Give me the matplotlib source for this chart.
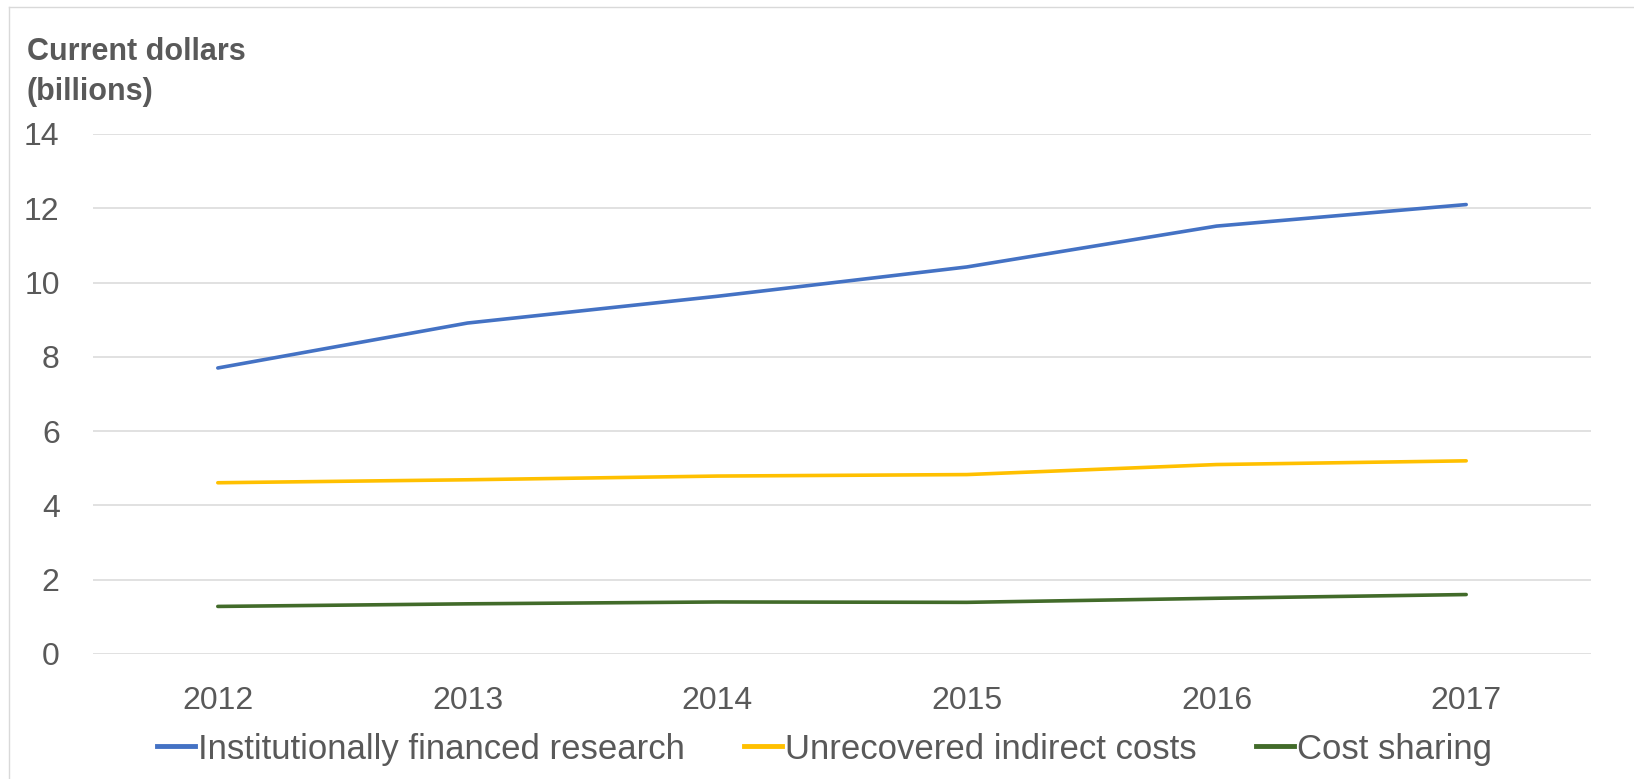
import matplotlib
matplotlib.use("Agg")
import matplotlib.pyplot as plt
from matplotlib.lines import Line2D

# data
years = ["2012", "2013", "2014", "2015", "2016", "2017"]
institutional = [7.70, 8.91, 9.63, 10.42, 11.52, 12.10]
unrecovered = [4.61, 4.69, 4.79, 4.83, 5.10, 5.20]
cost_sharing = [1.28, 1.35, 1.40, 1.39, 1.50, 1.60]
series_names = ["Institutionally financed research", "Unrecovered indirect costs", "Cost sharing"]
series_colors = ["#4472C4", "#FFC000", "#426B2A"]
yticks = [0, 2, 4, 6, 8, 10, 12, 14]

fam = ["Liberation Sans", "DejaVu Sans"]
grey = "#595959"

fig = plt.figure(figsize=(16.34, 7.79), dpi=100)
ax = fig.add_axes([0.0569, 0.1605, 0.9168, 0.6675])

x = list(range(len(years)))
for vals, name, col in zip([institutional, unrecovered, cost_sharing], series_names, series_colors):
    ax.plot(x, vals, color=col, lw=2.6, solid_capstyle="round", label=name, zorder=3)

ax.set_xlim(-0.5, len(years) - 0.5)
ax.set_ylim(0, 14)
ax.set_yticks(yticks)
ax.set_xticks(x)
ax.set_xticklabels(years)
ax.yaxis.grid(True, color="#D9D9D9", lw=1.1)
ax.set_axisbelow(True)
for s in ax.spines.values():
    s.set_visible(False)
ax.tick_params(axis="both", length=0, labelcolor=grey)
ax.tick_params(axis="x", pad=23)
ax.tick_params(axis="y", pad=24)
for lab in ax.get_xticklabels() + ax.get_yticklabels():
    lab.set_family(fam)
    lab.set_fontsize(23)

# axis title in the top left corner
fig.text(0.0165, 0.923, "Current dollars", family=fam, fontsize=22,
         fontweight="bold", color=grey, va="baseline", ha="left")
fig.text(0.0165, 0.8716, "(billions)", family=fam, fontsize=22,
         fontweight="bold", color=grey, va="baseline", ha="left")

handles = [Line2D([], [], color=c, lw=3.5) for c in series_colors]
leg = fig.legend(handles, series_names, loc="center", bbox_to_anchor=(0.5046, 0.0385),
                 ncol=3, frameon=False, handlelength=1.09, handletextpad=0.09,
                 columnspacing=1.71, prop={"family": fam, "size": 25})
for t in leg.get_texts():
    t.set_color(grey)

# thin frame along the top and left edge
fig.add_artist(Line2D([9 / 1634, 1], [1 - 7 / 779, 1 - 7 / 779], color="#D9D9D9", lw=1,
                      transform=fig.transFigure))
fig.add_artist(Line2D([9 / 1634, 9 / 1634], [0, 1 - 7 / 779], color="#D9D9D9", lw=1,
                      transform=fig.transFigure))

fig.savefig("out.png", dpi=100)
